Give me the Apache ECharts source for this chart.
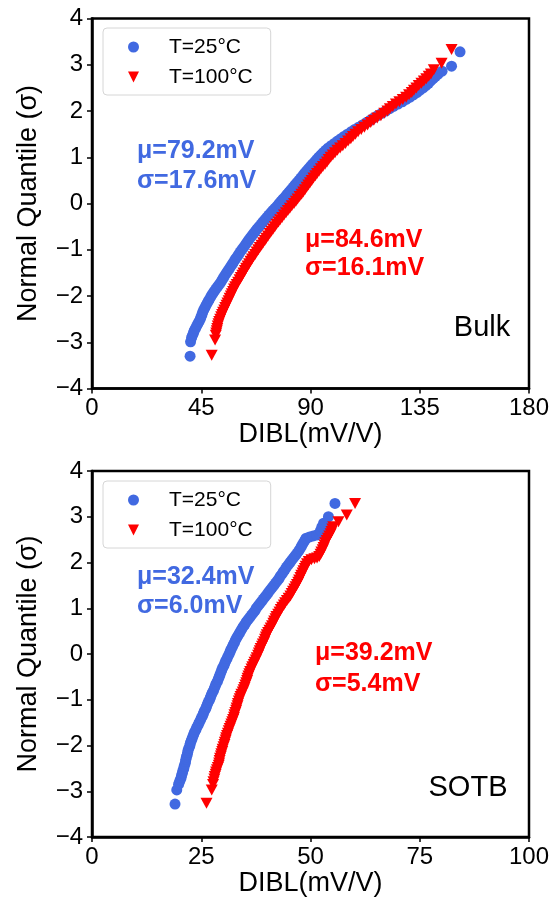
<!DOCTYPE html>
<html>
<head>
<meta charset="utf-8">
<script src="https://cdn.jsdelivr.net/npm/echarts@6/dist/echarts.min.js"></script>
<style>
  html, body { margin: 0; padding: 0; background: #fff; }
  #chart { width: 557px; height: 909px; }
</style>
</head>
<body>
<div id="chart"></div>
<script>
// ---- Bulk device, T = 25 °C : DIBL (mV/V) against normal quantile (sigma)
const bulk25Quant = [-3.30, -2.99, -2.90, -2.85, -2.80, -2.75, -2.70, -2.65, -2.60, -2.55, -2.50, -2.45, -2.40, -2.35,
  -2.30, -2.25, -2.20, -2.15, -2.10, -2.05, -2.00, -1.95, -1.90, -1.85, -1.80, -1.75, -1.70, -1.65, -1.60, -1.55,
  -1.50, -1.45, -1.40, -1.35, -1.30, -1.25, -1.20, -1.15, -1.10, -1.05, -1.00, -0.95, -0.90, -0.85, -0.80, -0.75,
  -0.70, -0.65, -0.60, -0.55, -0.50, -0.45, -0.40, -0.35, -0.30, -0.25, -0.20, -0.15, -0.10, -0.05, 0.00, 0.05,
  0.10, 0.15, 0.20, 0.25, 0.30, 0.35, 0.40, 0.45, 0.50, 0.55, 0.60, 0.65, 0.70, 0.75, 0.80, 0.85,
  0.90, 0.95, 1.00, 1.05, 1.10, 1.15, 1.20, 1.25, 1.30, 1.35, 1.40, 1.45, 1.50, 1.55, 1.60, 1.65,
  1.70, 1.75, 1.80, 1.85, 1.90, 1.95, 2.00, 2.05, 2.10, 2.15, 2.20, 2.25, 2.30, 2.35, 2.40, 2.45,
  2.50, 2.55, 2.60, 2.65, 2.70, 2.75, 2.80, 2.86, 2.97, 3.28];
const bulk25Dibl = [40.4, 40.6, 41.0, 41.4, 41.8, 42.1, 42.6, 43.1, 43.6, 44.1, 44.6, 44.9, 45.3, 45.6,
  46.0, 46.5, 47.0, 47.5, 48.0, 48.6, 49.1, 49.7, 50.3, 51.0, 51.7, 52.4, 53.1, 53.6, 54.2, 54.8,
  55.4, 56.0, 56.7, 57.3, 57.9, 58.5, 59.1, 59.8, 60.4, 61.0, 61.7, 62.4, 63.1, 63.7, 64.4, 65.1,
  65.8, 66.5, 67.3, 68.0, 68.8, 69.6, 70.4, 71.2, 72.0, 72.8, 73.7, 74.5, 75.4, 76.3, 77.1, 77.9,
  78.7, 79.6, 80.4, 81.2, 82.0, 82.8, 83.6, 84.4, 85.2, 86.0, 86.8, 87.5, 88.3, 89.1, 90.0, 90.8,
  91.7, 92.5, 93.4, 94.3, 95.2, 96.2, 97.3, 98.5, 99.8, 101.1, 102.5, 103.8, 105.2, 106.7, 108.2, 109.8,
  111.4, 113.0, 114.6, 116.0, 117.6, 119.3, 121.0, 122.6, 124.2, 126.0, 127.8, 129.4, 131.0, 132.4, 133.8, 135.1,
  136.4, 137.5, 138.6, 139.5, 140.5, 141.5, 142.6, 144.2, 148.1, 151.6];

// ---- Bulk device, T = 100 °C
const bulk100Quant = [-3.28, -2.95, -2.85, -2.80, -2.75, -2.70, -2.65, -2.60, -2.55, -2.50, -2.45, -2.40, -2.35, -2.30,
  -2.25, -2.20, -2.15, -2.10, -2.05, -2.00, -1.95, -1.90, -1.85, -1.80, -1.75, -1.70, -1.65, -1.60, -1.55, -1.50,
  -1.45, -1.40, -1.35, -1.30, -1.25, -1.20, -1.15, -1.10, -1.05, -1.00, -0.95, -0.90, -0.85, -0.80, -0.75, -0.70,
  -0.65, -0.60, -0.55, -0.50, -0.45, -0.40, -0.35, -0.30, -0.25, -0.20, -0.15, -0.10, -0.05, 0.00, 0.05, 0.10,
  0.15, 0.20, 0.25, 0.30, 0.35, 0.40, 0.45, 0.50, 0.55, 0.60, 0.65, 0.70, 0.75, 0.80, 0.85, 0.90,
  0.95, 1.00, 1.05, 1.10, 1.15, 1.20, 1.25, 1.30, 1.35, 1.40, 1.45, 1.50, 1.55, 1.60, 1.65, 1.70,
  1.75, 1.80, 1.85, 1.90, 1.95, 2.00, 2.05, 2.10, 2.15, 2.20, 2.25, 2.30, 2.35, 2.40, 2.45, 2.50,
  2.55, 2.60, 2.65, 2.70, 2.75, 2.80, 2.89, 3.03, 3.33];
const bulk100Dibl = [49.3, 50.7, 51.0, 51.2, 51.4, 51.6, 51.8, 52.1, 52.4, 52.8, 53.2, 53.6, 54.0, 54.5,
  54.9, 55.4, 55.8, 56.3, 56.7, 57.2, 57.6, 58.1, 58.5, 59.0, 59.6, 60.2, 60.8, 61.3, 61.9, 62.4,
  63.0, 63.5, 64.1, 64.7, 65.3, 65.9, 66.5, 67.2, 67.8, 68.5, 69.1, 69.8, 70.5, 71.2, 71.8, 72.5,
  73.2, 73.9, 74.6, 75.3, 76.0, 76.8, 77.5, 78.3, 79.1, 79.9, 80.7, 81.5, 82.3, 83.2, 84.0, 84.7,
  85.5, 86.3, 87.0, 87.7, 88.4, 89.1, 89.8, 90.5, 91.2, 92.0, 92.7, 93.5, 94.3, 95.1, 96.0, 96.8,
  97.5, 98.3, 99.2, 100.1, 101.1, 102.2, 103.3, 104.4, 105.5, 106.6, 107.5, 108.5, 109.6, 110.9, 112.2, 113.5,
  114.8, 116.1, 117.5, 119.0, 120.4, 121.7, 122.7, 123.9, 125.2, 126.6, 128.0, 129.4, 130.6, 131.7, 132.6, 133.6,
  134.6, 135.7, 136.7, 137.7, 138.7, 139.6, 140.8, 144.0, 148.1];

// ---- SOTB device, T = 25 °C
const sotb25Quant = [-3.28, -2.97, -2.85, -2.80, -2.75, -2.70, -2.65, -2.60, -2.55, -2.50, -2.45, -2.40, -2.35, -2.30,
  -2.25, -2.20, -2.15, -2.10, -2.05, -2.00, -1.95, -1.90, -1.85, -1.80, -1.75, -1.70, -1.65, -1.60, -1.55, -1.50,
  -1.45, -1.40, -1.35, -1.30, -1.25, -1.20, -1.15, -1.10, -1.05, -1.00, -0.95, -0.90, -0.85, -0.80, -0.75, -0.70,
  -0.65, -0.60, -0.55, -0.50, -0.45, -0.40, -0.35, -0.30, -0.25, -0.20, -0.15, -0.10, -0.05, 0.00, 0.05, 0.10,
  0.15, 0.20, 0.25, 0.30, 0.35, 0.40, 0.45, 0.50, 0.55, 0.60, 0.65, 0.70, 0.75, 0.80, 0.85, 0.90,
  0.95, 1.00, 1.05, 1.10, 1.15, 1.20, 1.25, 1.30, 1.35, 1.40, 1.45, 1.50, 1.55, 1.60, 1.65, 1.70,
  1.75, 1.80, 1.85, 1.90, 1.95, 2.00, 2.05, 2.10, 2.15, 2.20, 2.25, 2.30, 2.35, 2.40, 2.45, 2.50,
  2.53, 2.56, 2.58, 2.60, 2.63, 2.70, 2.78, 2.86, 3.00, 3.29];
const sotb25Dibl = [19.0, 19.4, 19.8, 20.0, 20.2, 20.4, 20.5, 20.7, 20.8, 21.0, 21.1, 21.3, 21.4, 21.5,
  21.6, 21.8, 21.9, 22.0, 22.2, 22.4, 22.5, 22.7, 22.9, 23.1, 23.3, 23.5, 23.8, 24.0, 24.3, 24.5,
  24.8, 25.0, 25.3, 25.5, 25.7, 26.0, 26.2, 26.4, 26.6, 26.9, 27.1, 27.3, 27.5, 27.8, 28.0, 28.2,
  28.4, 28.7, 28.9, 29.1, 29.3, 29.5, 29.7, 29.9, 30.2, 30.4, 30.6, 30.9, 31.1, 31.4, 31.6, 31.8,
  32.1, 32.3, 32.6, 32.8, 33.1, 33.4, 33.7, 34.0, 34.3, 34.6, 35.0, 35.3, 35.7, 36.1, 36.5, 36.9,
  37.3, 37.6, 38.0, 38.4, 38.8, 39.2, 39.6, 40.0, 40.4, 40.8, 41.2, 41.6, 42.0, 42.4, 42.8, 43.1,
  43.5, 43.8, 44.2, 44.5, 44.9, 45.3, 45.7, 46.1, 46.5, 46.9, 47.3, 47.6, 47.9, 48.2, 48.5, 48.8,
  49.0, 49.8, 50.6, 51.4, 52.0, 52.3, 52.6, 53.0, 54.1, 55.6];

// ---- SOTB device, T = 100 °C
const sotb100Quant = [-3.26, -2.97, -2.85, -2.79, -2.73, -2.68, -2.63, -2.58, -2.53, -2.48, -2.43, -2.38, -2.33, -2.28,
  -2.23, -2.18, -2.13, -2.08, -2.03, -1.98, -1.93, -1.88, -1.83, -1.78, -1.73, -1.68, -1.63, -1.58, -1.53, -1.48,
  -1.43, -1.38, -1.33, -1.28, -1.23, -1.18, -1.13, -1.08, -1.03, -0.98, -0.93, -0.88, -0.83, -0.78, -0.73, -0.68,
  -0.63, -0.58, -0.53, -0.48, -0.43, -0.38, -0.33, -0.28, -0.23, -0.18, -0.13, -0.08, -0.03, 0.02, 0.07, 0.12,
  0.17, 0.22, 0.27, 0.32, 0.37, 0.42, 0.47, 0.52, 0.57, 0.62, 0.67, 0.72, 0.77, 0.82, 0.87, 0.92,
  0.97, 1.02, 1.07, 1.12, 1.17, 1.22, 1.27, 1.32, 1.37, 1.42, 1.47, 1.52, 1.57, 1.62, 1.67, 1.72,
  1.77, 1.82, 1.87, 1.92, 1.97, 2.02, 2.06, 2.08, 2.10, 2.13, 2.18, 2.23, 2.28, 2.33, 2.38, 2.43,
  2.48, 2.53, 2.58, 2.63, 2.68, 2.73, 2.78, 2.89, 3.04, 3.29];
const sotb100Dibl = [26.2, 27.4, 27.7, 27.8, 28.0, 28.1, 28.3, 28.4, 28.6, 28.8, 29.0, 29.1, 29.2, 29.3,
  29.5, 29.6, 29.8, 29.9, 30.1, 30.3, 30.4, 30.6, 30.7, 30.9, 31.1, 31.3, 31.5, 31.7, 31.9, 32.1,
  32.3, 32.5, 32.6, 32.8, 33.0, 33.1, 33.3, 33.4, 33.6, 33.8, 34.0, 34.2, 34.5, 34.7, 34.9, 35.1,
  35.3, 35.5, 35.6, 35.8, 36.0, 36.2, 36.5, 36.7, 37.0, 37.2, 37.5, 37.7, 38.0, 38.2, 38.4, 38.6,
  38.9, 39.1, 39.4, 39.6, 39.8, 40.0, 40.3, 40.6, 40.9, 41.2, 41.5, 41.7, 42.0, 42.2, 42.6, 42.9,
  43.2, 43.5, 43.9, 44.2, 44.6, 45.0, 45.4, 45.7, 46.0, 46.3, 46.6, 46.9, 47.2, 47.4, 47.7, 47.9,
  48.2, 48.4, 48.7, 48.9, 49.2, 49.6, 50.2, 50.9, 51.5, 52.0, 52.3, 52.5, 52.8, 53.0, 53.2, 53.4,
  53.7, 54.0, 54.3, 54.6, 54.8, 55.0, 55.2, 56.4, 58.3, 60.2];

// Axis ranges and tick steps
const bulkXRange = [0, 180, 45];
const sotbXRange = [0, 100, 25];
const quantRange = [-4, 4, 1];

// Labels
const seriesNames = ['T=25°C', 'T=100°C'];
const xTitle = 'DIBL(mV/V)';
const yTitle = 'Normal Quantile (σ)';
const bulkStats = { cold: ['μ=79.2mV', 'σ=17.6mV'], hot: ['μ=84.6mV', 'σ=16.1mV'] };
const sotbStats = { cold: ['μ=32.4mV', 'σ=6.0mV'], hot: ['μ=39.2mV', 'σ=5.4mV'] };
const panelNames = ['Bulk', 'SOTB'];

const FONT = '"Liberation Sans", Arial, Helvetica, sans-serif';
const BLUE = '#4169E1';
const RED = '#FF0000';
const TRI_DOWN = 'path://M0,0L2,0L1,2Z';

const pairs = (xs, qs) => xs.map((x, i) => [x, qs[i]]);
const minusSign = v => String(v).replace('-', '\u2212');

const grids = [
  { left: 92, top: 18.5, width: 437, height: 370 },
  { left: 92, top: 471, width: 437, height: 366 }
].map(g => Object.assign(g, { show: true, borderColor: '#000', borderWidth: 2.5, backgroundColor: 'transparent' }));

function makeXAxis(gridIndex, range) {
  return {
    gridIndex, type: 'value', min: range[0], max: range[1], interval: range[2],
    name: xTitle, nameLocation: 'middle', nameGap: 31,
    nameTextStyle: { fontFamily: FONT, fontSize: 27, color: '#000' },
    axisLine: { show: true, onZero: false, lineStyle: { color: '#000', width: 2.5 } },
    axisTick: { show: true, inside: false, length: 5, lineStyle: { color: '#000', width: 1.5 } },
    axisLabel: { fontFamily: FONT, fontSize: 24, color: '#000', margin: 8, formatter: minusSign },
    splitLine: { show: false }
  };
}
function makeYAxis(gridIndex) {
  return {
    gridIndex, type: 'value', min: quantRange[0], max: quantRange[1], interval: quantRange[2],
    name: yTitle, nameLocation: 'middle', nameGap: 50,
    nameTextStyle: { fontFamily: FONT, fontSize: 27, color: '#000' },
    axisLine: { show: true, onZero: false, lineStyle: { color: '#000', width: 2.5 } },
    axisTick: { show: true, inside: false, length: 5, lineStyle: { color: '#000', width: 1.5 } },
    axisLabel: { fontFamily: FONT, fontSize: 24, color: '#000', margin: 9, formatter: minusSign },
    splitLine: { show: false }
  };
}

function makeLegend(top) {
  return {
    orient: 'vertical', left: 103, top,
    data: seriesNames,
    itemWidth: 11, itemHeight: 11, itemGap: 6,
    padding: [7, 18, 6, 25],
    borderColor: '#d6d6d6', borderWidth: 1, borderRadius: 4,
    backgroundColor: 'rgba(255,255,255,0.85)',
    selectedMode: false,
    textStyle: { fontFamily: FONT, fontSize: 21, color: '#000', lineHeight: 24, padding: [0, 0, 0, 25] }
  };
}

function scatter(name, data, axisIndex, isHot) {
  return {
    type: 'scatter', name, data,
    xAxisIndex: axisIndex, yAxisIndex: axisIndex,
    symbol: isHot ? TRI_DOWN : 'circle',
    symbolSize: isHot ? [12, 11] : 11,
    itemStyle: { color: isHot ? RED : BLUE, opacity: 1 },
    emphasis: { disabled: true },
    silent: true, animation: false
  };
}

function statText(lines, x, y1, y2, color) {
  const font = 'bold 25px ' + FONT;
  return [
    { type: 'text', x, y: y1, style: { text: lines[0], fill: color, font, textVerticalAlign: 'middle' } },
    { type: 'text', x, y: y2, style: { text: lines[1], fill: color, font, textVerticalAlign: 'middle' } }
  ];
}
function panelText(text, cx, cy) {
  return { type: 'text', x: cx, y: cy,
    style: { text, fill: '#000', font: '29px ' + FONT, textAlign: 'center', textVerticalAlign: 'middle' } };
}

const option = {
  backgroundColor: '#fff',
  animation: false,
  grid: grids,
  xAxis: [makeXAxis(0, bulkXRange), makeXAxis(1, sotbXRange)],
  yAxis: [makeYAxis(0), makeYAxis(1)],
  legend: [makeLegend(28), makeLegend(481)],
  series: [
    scatter(seriesNames[0], pairs(bulk25Dibl, bulk25Quant), 0, false),
    scatter(seriesNames[1], pairs(bulk100Dibl, bulk100Quant), 0, true),
    scatter(seriesNames[0], pairs(sotb25Dibl, sotb25Quant), 1, false),
    scatter(seriesNames[1], pairs(sotb100Dibl, sotb100Quant), 1, true)
  ],
  graphic: [
    ...statText(bulkStats.cold, 137, 151, 181, BLUE),
    ...statText(bulkStats.hot, 305, 240, 268, RED),
    panelText(panelNames[0], 482, 328),
    ...statText(sotbStats.cold, 137, 577, 606, BLUE),
    ...statText(sotbStats.hot, 315, 653, 684, RED),
    panelText(panelNames[1], 468, 788)
  ]
};

const chart = echarts.init(document.getElementById('chart'), null, { renderer: 'canvas' });
chart.setOption(option);
</script>
</body>
</html>
